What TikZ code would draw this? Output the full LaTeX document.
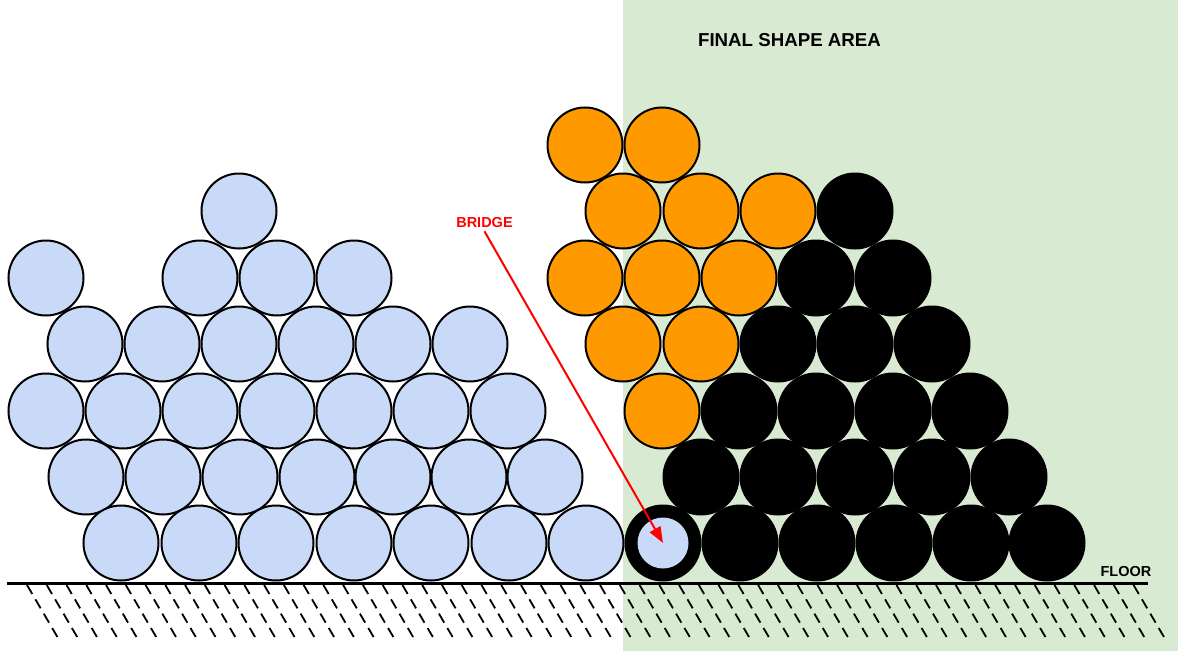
\documentclass[tikz,border=0pt]{standalone}
\usepackage{fontspec}
\setmainfont{Liberation Sans}
\usetikzlibrary{arrows.meta}
\definecolor{ltblue}{HTML}{C9DAF8}
\definecolor{orng}{HTML}{FF9900}
\definecolor{ltgreen}{HTML}{D9EAD3}
\begin{document}
\begin{tikzpicture}[x=1pt,y=-1pt,
  ball/.style={circle, draw=black, line width=2pt, minimum size=75pt, inner sep=0pt},
  blueball/.style={ball, fill=ltblue},
  orangeball/.style={ball, fill=orng},
  blackball/.style={ball, fill=black},
  lbl/.style={font=\bfseries\fontsize{14.5}{16}\selectfont, inner sep=0pt},
  hatch/.style={line width=1.8pt, dash pattern=on 10.4pt off 6.2pt}]
\useasboundingbox (0,0) rectangle (1179,653);
\fill[ltgreen] (623,0) rectangle (1178,651);
\node[font=\bfseries\fontsize{18.7}{20}\selectfont, inner sep=0pt] (area) at (789.5,40) {FINAL SHAPE AREA};
% row 6
\foreach \x [count=\i] in {585,662} \node[orangeball] (o6-\i) at (\x,145) {};
% row 5
\node[blueball] (b5-1) at (239,211) {};
\foreach \x [count=\i] in {623,701,778} \node[orangeball] (o5-\i) at (\x,211) {};
\node[blackball] (k5-1) at (855,211) {};
% row 4
\foreach \x [count=\i] in {46,200,277,354} \node[blueball] (b4-\i) at (\x,278) {};
\foreach \x [count=\i] in {585,662,739} \node[orangeball] (o4-\i) at (\x,278) {};
\foreach \x [count=\i] in {816,893} \node[blackball] (k4-\i) at (\x,278) {};
% row 3
\foreach \x [count=\i] in {85,162,239,316,393,470} \node[blueball] (b3-\i) at (\x,344) {};
\foreach \x [count=\i] in {623,701} \node[orangeball] (o3-\i) at (\x,344) {};
\foreach \x [count=\i] in {778,855,932} \node[blackball] (k3-\i) at (\x,344) {};
% row 2
\foreach \x [count=\i] in {46,123,200,277,354,431,508} \node[blueball] (b2-\i) at (\x,411) {};
\node[orangeball] (o2-1) at (662,411) {};
\foreach \x [count=\i] in {739,816,893,970} \node[blackball] (k2-\i) at (\x,411) {};
% row 1
\foreach \x [count=\i] in {86,163,240,317,393,469,545} \node[blueball] (b1-\i) at (\x,477) {};
\foreach \x [count=\i] in {701,778,855,932,1009} \node[blackball] (k1-\i) at (\x,477) {};
% row 0
\foreach \x [count=\i] in {121,199,276,354,431,509,586} \node[blueball] (b0-\i) at (\x,543) {};
\node[blackball] (bridge) at (663,543) {};
\node[circle, fill=ltblue, minimum size=51pt, inner sep=0pt] (bridgecore) at (bridge.center) {};
\foreach \x [count=\i] in {740,817,894,971,1047} \node[blackball] (k0-\i) at (\x,543) {};
% floor
\coordinate (floorL) at (7,583);
\coordinate (floorR) at (1148,583);
\draw[line width=3pt] (floorL) -- (floorR);
\foreach \i in {0,...,56} \draw[hatch] ({27+19.76*\i},585) -- ++(31,53);
\node[lbl] (floortxt) at (1126,572) {FLOOR};
% bridge label and arrow
\node[lbl, text=red, inner sep=3pt] (bridgetxt) at (484.5,223) {BRIDGE};
\draw[red, line width=2pt, -{Triangle[length=16pt,width=12pt]}] (bridgetxt.south) -- (bridge.center);
\end{tikzpicture}
\end{document}
